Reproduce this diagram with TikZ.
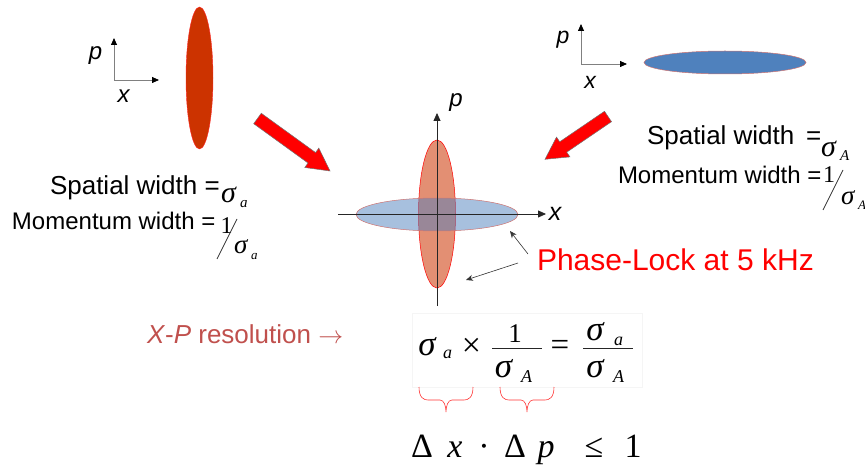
\documentclass[tikz,border=0pt]{standalone}
\usepackage{fontspec}
\setmainfont{Liberation Sans}
\newfontfamily\tms{Liberation Serif}
\usetikzlibrary{arrows.meta,calc}
\definecolor{darkred}{RGB}{204,51,0}
\definecolor{steel}{RGB}{79,129,189}
\definecolor{rose}{RGB}{192,80,77}
\newcommand\fsz[1]{\fontsize{#1}{#1}\selectfont}
\begin{document}
\begin{tikzpicture}[x=1pt,y=-1pt,
  t/.style={inner sep=0pt,outer sep=0pt},
  sans/.style={t,font=\fsz{#1}},
  ital/.style={t,font=\itshape\fsz{#1}},
  srf/.style={t,font=\tms\fsz{#1}},
  srfi/.style={t,font=\tms\itshape\fsz{#1}},
  ax/.style={black!85,line width=0.8pt,-{Triangle[width=7pt,length=8pt]}},
  sax/.style={black!50,line width=0.8pt,-{Triangle[width=6pt,length=7pt,color=black]}},
  ptr/.style={black!80,line width=0.6pt,-{Stealth[width=6pt,length=7pt]}},
  blk/.style={fill=red,draw=black!55,line width=0.5pt},
  brc/.style={red!80,line width=0.6pt}]
\useasboundingbox (0,0) rectangle (865,465);

% ---------- top-left small axes and ellipse
\coordinate (o1) at (114,80);
\coordinate (o1p) at (114,38);
\coordinate (o1x) at (159,80);
\draw[sax] (o1) -- (o1p);
\draw[sax] (o1) -- (o1x);
\node[ital=24,anchor=base] (p1) at (95.5,60) {p};
\node[ital=24,anchor=base] (x1) at (123.5,103) {x};
\filldraw[fill=darkred,draw=red!85,line width=0.4pt] (199.5,78) ellipse [x radius=13.5pt,y radius=71pt];

% ---------- top-right small axes and ellipse
\coordinate (o2) at (581,64);
\coordinate (o2p) at (581,24);
\coordinate (o2x) at (627,64);
\draw[sax] (o2) -- (o2p);
\draw[sax] (o2) -- (o2x);
\node[ital=23,anchor=base] (p2) at (563,44) {p};
\node[ital=23,anchor=base] (x2) at (590,89) {x};
\filldraw[fill=steel,draw=rose!80,line width=0.5pt] (725,62.5) ellipse [x radius=81pt,y radius=11.5pt];

% ---------- block arrows
\filldraw[blk] (253.7,123.7) -- (308.0,163.0) -- (304.8,167.5) -- (330,171) -- (318.8,148.1) -- (315.6,152.6) -- (261.3,113.3) -- cycle;
\filldraw[blk] (611.5,121.7) -- (566.7,152.2) -- (569.9,156.9) -- (545,159.3) -- (556.5,137.1) -- (559.7,141.8) -- (604.5,111.3) -- cycle;

% ---------- left texts
\node[sans=26,anchor=base west] (sw1) at (50,195) {Spatial width =};
\node[srfi=30,anchor=base west] (sg1) at (221,203) {σ};
\node[srfi=15,anchor=base west] (sa1) at (240,208) {a};
\node[sans=24,anchor=base west] (mw1) at (12,230) {Momentum width =};
\node[srf=24,anchor=base] (one1) at (226.5,234) {1};
\coordinate (sl1a) at (217,259);
\coordinate (sl1b) at (237,219);
\draw[black!80,line width=0.7pt] (sl1a) -- (sl1b);
\node[srfi=27,anchor=base west] (sg2) at (234,254) {σ};
\node[srfi=13,anchor=base west] (sa2) at (251,259) {a};

% ---------- right texts
\node[sans=26,anchor=base west] (sw2) at (647,145) {Spatial width};
\node[sans=26,anchor=base west] (eq2) at (806,145) {=};
\node[srfi=30,anchor=base west] (sg3) at (821,157) {σ};
\node[srfi=15,anchor=base west] (sA3) at (840,161) {A};
\node[sans=24,anchor=base west] (mw2) at (618,184) {Momentum width =};
\node[srf=24,anchor=base] (one2) at (829,183) {1};
\coordinate (sl2a) at (823,210);
\coordinate (sl2b) at (843,170);
\draw[black!80,line width=0.7pt] (sl2a) -- (sl2b);
\node[srfi=27,anchor=base west] (sg4) at (841,205) {σ};
\node[srfi=13,anchor=base west] (sA4) at (858,210) {A};

% ---------- central phase space
\filldraw[fill=darkred,fill opacity=0.55,draw=red,line width=0.5pt] (437,214) ellipse [x radius=18.5pt,y radius=74pt];
\filldraw[fill=steel,fill opacity=0.5,draw=rose!80,line width=0.5pt] (437,214.5) ellipse [x radius=81pt,y radius=16.5pt];
\coordinate (vb) at (437,306);
\coordinate (vt) at (437,113);
\coordinate (hl) at (338,214);
\coordinate (hr) at (546,214);
\draw[ax] (vb) -- (vt);
\draw[ax] (hl) -- (hr);
\node[ital=24,anchor=base] (pc) at (456,107) {p};
\node[ital=25,anchor=base] (xc) at (555,221) {x};

% ---------- phase lock label
\node[sans=30,anchor=base west,text=red] (pl) at (537,270) {Phase-Lock at 5 kHz};
\coordinate (pt1a) at (528,254);
\coordinate (pt1b) at (510,231);
\coordinate (pt2a) at (518,263);
\coordinate (pt2b) at (466,280);
\draw[ptr] (pt1a) -- (pt1b);
\draw[ptr] (pt2a) -- (pt2b);

% ---------- resolution label
\node[t,anchor=base west,text=rose,font=\fsz{26}] (xp) at (147,343) {\textit{X}-\textit{P} resolution $\rightarrow$};

% ---------- formula
\node[t,draw=black!4,line width=0.5pt,minimum width=230pt,minimum height=74pt] (fbox) at (527,350) {};
\node[srfi=35,anchor=base] (f1) at (427,355) {σ};
\node[srfi=18,anchor=base] (f2) at (447.5,358) {a};
\node[srf=34,anchor=center] (f3) at (471.5,347) {×};
\coordinate (bar1l) at (492,348);
\coordinate (bar1r) at (542,348);
\draw[black!85,line width=0.9pt] (bar1l) -- (bar1r);
\node[srf=27,anchor=base] (f4) at (515,342) {1};
\node[srfi=35,anchor=base] (f5) at (503.5,377) {σ};
\node[srfi=18,anchor=base] (f6) at (526.5,382) {A};
\node[srf=33,anchor=center] (f7) at (560,348) {=};
\coordinate (bar2l) at (583,348);
\coordinate (bar2r) at (633,348);
\draw[black!85,line width=0.9pt] (bar2l) -- (bar2r);
\node[srfi=35,anchor=base] (f8) at (595,340) {σ};
\node[srfi=18,anchor=base] (f9) at (618.5,345) {a};
\node[srfi=35,anchor=base] (f10) at (595,377) {σ};
\node[srfi=18,anchor=base] (f11) at (618.5,382) {A};

% braces
\coordinate (b1l) at (419,387);
\coordinate (b1m) at (446,412);
\coordinate (b1r) at (473,387);
\coordinate (b2l) at (500,387);
\coordinate (b2m) at (527,412);
\coordinate (b2r) at (554,387);
\draw[brc] (b1l) .. controls +(0,11) and +(-4,0) .. ++(9,13) -- ($(b1m)+(-6,-12)$) .. controls +(4,0) and +(0,-6) .. (b1m)
  .. controls +(0,-6) and +(-4,0) .. ($(b1m)+(6,-12)$) -- ($(b1r)+(-9,13)$) .. controls +(4,0) and +(0,11) .. (b1r);
\draw[brc] (b2l) .. controls +(0,11) and +(-4,0) .. ++(9,13) -- ($(b2m)+(-6,-12)$) .. controls +(4,0) and +(0,-6) .. (b2m)
  .. controls +(0,-6) and +(-4,0) .. ($(b2m)+(6,-12)$) -- ($(b2r)+(-9,13)$) .. controls +(4,0) and +(0,11) .. (b2r);

% bottom inequality
\node[srf=34,anchor=base] (g1) at (422,457) {Δ};
\node[srfi=34,anchor=base] (g2) at (455,457) {x};
\node[srf=34,anchor=base] (g3) at (484,457) {·};
\node[srf=34,anchor=base] (g4) at (515,457) {Δ};
\node[srfi=34,anchor=base] (g5) at (546,457) {p};
\node[srf=34,anchor=base] (g6) at (594,457) {≤};
\node[srf=34,anchor=base] (g7) at (633,457) {1};
\end{tikzpicture}
\end{document}
